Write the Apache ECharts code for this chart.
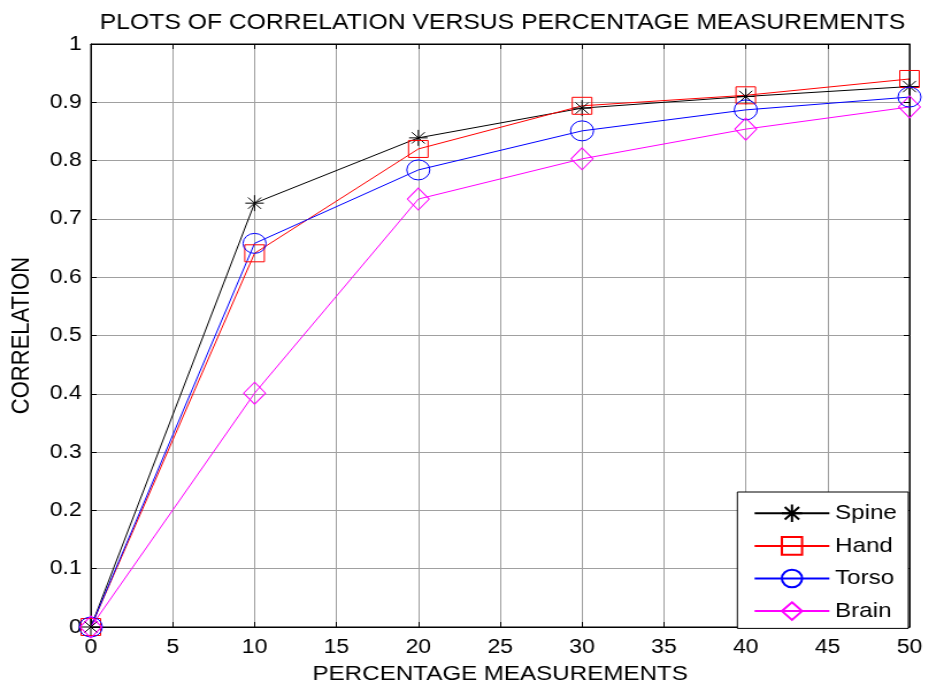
<!DOCTYPE html>
<html>
<head>
<meta charset="utf-8">
<script src="https://cdn.jsdelivr.net/npm/echarts@6/dist/echarts.min.js"></script>
<style>
html,body{margin:0;padding:0;background:#fff;overflow:hidden;}
#wrap{width:929px;height:690px;overflow:hidden;}
#c{width:808px;height:690px;transform-origin:0 0;transform:scaleX(1.1498);}
</style>
</head>
<body>
<div id="wrap"><div id="c"></div></div>
<script>
const xValues = [0, 10, 20, 30, 40, 50];
const spine = [0, 0.727, 0.839, 0.890, 0.910, 0.927];
const hand  = [0, 0.641, 0.820, 0.894, 0.912, 0.940];
const torso = [0, 0.658, 0.784, 0.851, 0.887, 0.909];
const brain = [0, 0.401, 0.734, 0.803, 0.854, 0.892];
const seriesNames = ['Spine', 'Hand', 'Torso', 'Brain'];
const titleText = 'PLOTS OF CORRELATION VERSUS PERCENTAGE MEASUREMENTS';
const xName = 'PERCENTAGE MEASUREMENTS';
const yName = 'CORRELATION';

const F = 'Liberation Sans, Arial, sans-serif';
const pair = arr => xValues.map((x, i) => [x, arr[i]]);
const asterisk = 'path://M10,0L10,20M0,10L20,10M2.93,2.93L17.07,17.07M17.07,2.93L2.93,17.07';
const diamond = 'path://M10,0L20,10L10,20L0,10Z';
const square = 'path://M0,0L20,0L20,20L0,20Z';
const circle = 'path://M0,10A10,10,0,1,1,20,10A10,10,0,1,1,0,10Z';

function mk(name, data, color, symbol, size) {
  return {
    name, type: 'line', data: pair(data), symbol, symbolSize: size,
    showAllSymbol: true,
    lineStyle: {color, width: 1},
    itemStyle: {color: 'none', borderColor: color, borderWidth: 1},
    emphasis: {disabled: true},
    animation: false
  };
}

const chart = echarts.init(document.getElementById('c'));
const axisCommon = {
  axisLine: {show: true, onZero: false, lineStyle: {color: '#000', width: 1}},
  axisTick: {show: true, inside: true, length: 5, lineStyle: {color: '#000'}},
};
chart.setOption({
  animation: false,
  backgroundColor: '#fff',
  title: {text: titleText, left: 432, top: 7, textAlign: 'center',
    textStyle: {fontFamily: F, fontSize: 21.5, fontWeight: 'normal', color: '#000'}},
  grid: {left: 79, right: 17, top: 44, bottom: 63, show: true, borderColor: '#000', borderWidth: 1},
  legend: {
    right: 18, top: 492, orient: 'vertical', itemWidth: 65, itemHeight: 22, itemGap: 10,
    padding: [10, 10, 6, 14],
    backgroundColor: '#fff', borderColor: '#000', borderWidth: 1,
    textStyle: {fontFamily: F, fontSize: 21, color: '#000'},
    data: seriesNames
  },
  xAxis: [{
    type: 'value', min: 0, max: 50, interval: 5,
    name: xName, nameLocation: 'middle', nameGap: 37,
    nameTextStyle: {fontFamily: F, fontSize: 21, color: '#000'},
    axisLabel: {fontFamily: F, fontSize: 20, color: '#000', margin: 10},
    splitLine: {show: true, lineStyle: {color: '#a0a0a0', width: 1}},
    ...axisCommon
  }, {
    type: 'value', min: 0, max: 50, interval: 5, position: 'top',
    axisLabel: {show: false}, splitLine: {show: false}, ...axisCommon
  }],
  yAxis: [{
    type: 'value', min: 0, max: 1, interval: 0.1,
    name: yName, nameLocation: 'middle', nameGap: 49, nameRotate: 90,
    nameTextStyle: {fontFamily: F, fontSize: 22, color: '#000'},
    axisLabel: {fontFamily: F, fontSize: 20, color: '#000', margin: 8,
      formatter: v => String(Math.round(v * 10) / 10)},
    splitLine: {show: true, lineStyle: {color: '#a0a0a0', width: 1}},
    ...axisCommon
  }, {
    type: 'value', min: 0, max: 1, interval: 0.1, position: 'right',
    axisLabel: {show: false}, splitLine: {show: false}, ...axisCommon
  }],
  series: [
    mk(seriesNames[0], spine, '#000000', asterisk, 16),
    mk(seriesNames[1], hand, '#ff0000', square, 17),
    mk(seriesNames[2], torso, '#0000ff', circle, 20),
    mk(seriesNames[3], brain, '#ff00ff', diamond, [19, 22])
  ]
});
</script>
</body>
</html>
